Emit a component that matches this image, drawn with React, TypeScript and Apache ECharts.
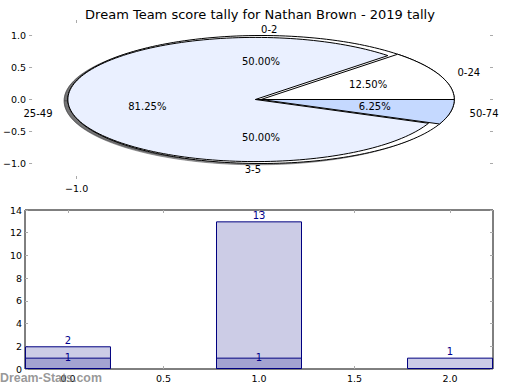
import React, { useEffect, useRef } from 'react';
import * as echarts from 'echarts';

const TITLE = 'Dream Team score tally for Nathan Brown - 2019 tally';
const WATERMARK = 'Dream-Stats.com';

// outer pie (score ranges)
const outerNames = ['0-24', '25-49', '50-74'];
const outerValues = [2, 13, 1];
// inner pie (goal ranges)
const innerNames = ['0-2', '3-5'];
const innerValues = [1, 1];

// bar chart
const lightX = [0, 1, 2];
const lightValues = [2, 13, 1];
const darkX = [0, 1];
const darkValues = [1, 1];

// ticks
const pieYTicks = [-1, -0.5, 0, 0.5, 1];
const pieXTicks = [-1];
const barXTicks = [0, 0.5, 1, 1.5, 2];

const FONT = 'DejaVu Sans';
const RX = 1.048;
const RY = 1;

const fmt1 = (v: number) => v.toFixed(1).replace('-', '\u2212');

function wedgeAngles(values: number[], idx: number) {
  const total = values.reduce((a, b) => a + b, 0);
  let start = 0;
  for (let i = 0; i < idx; i++) start += values[i];
  const a0 = (start / total) * Math.PI * 2;
  const a1 = ((start + values[idx]) / total) * Math.PI * 2;
  return [a0, a1, values[idx] / total];
}

function wedgePoints(api: any, values: number[], idx: number, shrink: number, shiftX: number, offX: number, offY: number) {
  const [a0, a1] = wedgeAngles(values, idx);
  const cx = shiftX + offX;
  const cy = offY;
  const pts: number[][] = [api.coord([cx, cy])];
  const n = Math.max(6, Math.ceil(((a1 - a0) / (Math.PI * 2)) * 200));
  for (let k = 0; k <= n; k++) {
    const a = a0 + ((a1 - a0) * k) / n;
    pts.push(api.coord([cx + RX * shrink * Math.cos(a), cy + RY * shrink * Math.sin(a)]));
  }
  return pts;
}

type WedgeStyle = { fill: string; shrink: number; shiftX: number };

function wedgeSeries(values: number[], styles: WedgeStyle[], z: number, shadow: boolean) {
  return {
    type: 'custom',
    xAxisIndex: 0,
    yAxisIndex: 0,
    z,
    silent: true,
    encode: { x: 0, y: 1 },
    data: values.map((v) => [0, 0, v]),
    renderItem: (params: any, api: any) => {
      const i = params.dataIndex;
      const s = styles[i];
      if (shadow) {
        return {
          type: 'polygon',
          shape: { points: wedgePoints(api, values, i, s.shrink, s.shiftX, -0.02, -0.02) },
          style: { fill: 'rgba(70,70,72,0.5)', stroke: 'rgba(70,70,72,0.5)', lineWidth: 1 },
        };
      }
      return {
        type: 'polygon',
        shape: { points: wedgePoints(api, values, i, s.shrink, s.shiftX, 0, 0) },
        style: { fill: s.fill, stroke: '#000', lineWidth: 1 },
      };
    },
  };
}

function labelSeries(values: number[], names: string[], z: number) {
  return {
    type: 'custom',
    xAxisIndex: 0,
    yAxisIndex: 0,
    z,
    silent: true,
    encode: { x: 0, y: 1 },
    data: values.map((v) => [0, 0, v]),
    renderItem: (params: any, api: any) => {
      const i = params.dataIndex;
      const [a0, a1, frac] = wedgeAngles(values, i);
      const m = (a0 + a1) / 2;
      const c = Math.cos(m);
      const sn = Math.sin(m);
      const lp = api.coord([1.1 * RX * c, 1.1 * RY * sn]);
      const pp = api.coord([0.6 * RX * c, 0.6 * RY * sn]);
      return {
        type: 'group',
        children: [
          {
            type: 'text',
            x: lp[0],
            y: lp[1],
            style: {
              text: names[i],
              fill: '#000',
              fontSize: 10,
              fontFamily: FONT,
              align: c > 0 ? 'left' : 'right',
              verticalAlign: 'middle',
            },
          },
          {
            type: 'text',
            x: pp[0],
            y: pp[1],
            style: {
              text: (frac * 100).toFixed(2) + '%',
              fill: '#000',
              fontSize: 10,
              fontFamily: FONT,
              align: 'center',
              verticalAlign: 'middle',
            },
          },
        ],
      };
    },
  };
}

const tickStyle = { show: true, inside: true, length: 3, lineStyle: { color: '#aaaaaa', width: 1 } };
const labelStyle = { fontSize: 9.5, color: '#000', fontFamily: FONT };
const noLine = { show: false, onZero: false };

export default function App() {
  const ref = useRef<HTMLDivElement>(null);
  useEffect(() => {
    if (!ref.current) return;
    const chart = echarts.init(ref.current, undefined, { renderer: 'svg' });

    const outerStyles: WedgeStyle[] = [
      { fill: '#ffffff', shrink: 1, shiftX: 0 },
      { fill: '#eaf0ff', shrink: 0.97, shiftX: -0.031 },
      { fill: '#c5d9ff', shrink: 1, shiftX: 0 },
    ];
    const innerStyles: WedgeStyle[] = [
      { fill: '#ffffff', shrink: 1, shiftX: 0 },
      { fill: '#ffffff', shrink: 1, shiftX: 0 },
    ];

    const option: any = {
      animation: false,
      backgroundColor: '#ffffff',
      title: {
        text: TITLE,
        left: 'center',
        top: 3,
        textStyle: { fontSize: 13, fontWeight: 'normal', color: '#000', fontFamily: FONT },
      },
      grid: [
        { left: 25, top: 20, width: 468, height: 159 },
        {
          left: 25,
          top: 210,
          width: 468,
          height: 159,
          show: true,
          borderColor: '#000',
          borderWidth: 1,
          backgroundColor: 'transparent',
        },
      ],
      xAxis: [
        {
          gridIndex: 0,
          type: 'value',
          min: -1.258,
          max: 1.258,
          position: 'bottom',
          axisLine: noLine,
          splitLine: { show: false },
          axisTick: { ...tickStyle, customValues: pieXTicks },
          axisLabel: { ...labelStyle, customValues: pieXTicks, formatter: fmt1, margin: 4 },
        },
        {
          gridIndex: 0,
          type: 'value',
          min: -1.258,
          max: 1.258,
          position: 'top',
          axisLine: noLine,
          splitLine: { show: false },
          axisTick: { ...tickStyle, customValues: pieXTicks },
          axisLabel: { show: false },
        },
        {
          gridIndex: 1,
          type: 'value',
          min: -0.225,
          max: 2.225,
          position: 'bottom',
          axisLine: noLine,
          splitLine: { show: false },
          axisTick: { ...tickStyle, customValues: barXTicks },
          axisLabel: { ...labelStyle, customValues: barXTicks, formatter: fmt1, margin: 4 },
        },
        {
          gridIndex: 1,
          type: 'value',
          min: -0.225,
          max: 2.225,
          position: 'top',
          axisLine: noLine,
          splitLine: { show: false },
          axisTick: { ...tickStyle, customValues: barXTicks },
          axisLabel: { show: false },
        },
      ],
      yAxis: [
        {
          gridIndex: 0,
          type: 'value',
          min: -1.242,
          max: 1.242,
          position: 'left',
          axisLine: noLine,
          splitLine: { show: false },
          axisTick: { ...tickStyle, customValues: pieYTicks },
          axisLabel: { ...labelStyle, customValues: pieYTicks, formatter: fmt1, margin: 3 },
        },
        {
          gridIndex: 0,
          type: 'value',
          min: -1.242,
          max: 1.242,
          position: 'right',
          axisLine: noLine,
          splitLine: { show: false },
          axisTick: { ...tickStyle, customValues: pieYTicks },
          axisLabel: { show: false },
        },
        {
          gridIndex: 1,
          type: 'value',
          min: 0,
          max: 14,
          interval: 2,
          position: 'left',
          axisLine: noLine,
          splitLine: { show: false },
          axisTick: tickStyle,
          axisLabel: { ...labelStyle, margin: 3 },
        },
        {
          gridIndex: 1,
          type: 'value',
          min: 0,
          max: 14,
          interval: 2,
          position: 'right',
          axisLine: noLine,
          splitLine: { show: false },
          axisTick: tickStyle,
          axisLabel: { show: false },
        },
      ],
      series: [
        wedgeSeries(innerValues, innerStyles, 1, true),
        wedgeSeries(outerValues, outerStyles, 1, true),
        wedgeSeries(innerValues, innerStyles, 2, false),
        wedgeSeries(outerValues, outerStyles, 3, false),
        labelSeries(innerValues, innerNames, 5),
        labelSeries(outerValues, outerNames, 5),
        {
          type: 'bar',
          xAxisIndex: 2,
          yAxisIndex: 2,
          data: lightX.map((x, i) => [x, lightValues[i]]),
          barWidth: 86,
          barGap: '-100%',
          itemStyle: { color: '#ccccE6', borderColor: '#000080', borderWidth: 1 },
          label: { show: true, position: 'top', distance: 1, color: '#00008b', fontSize: 10, fontFamily: FONT },
        },
        {
          type: 'bar',
          xAxisIndex: 2,
          yAxisIndex: 2,
          data: darkX.map((x, i) => [x, darkValues[i]]),
          barWidth: 86,
          barGap: '-100%',
          itemStyle: { color: '#a3a3d1', borderColor: '#000080', borderWidth: 1 },
          label: { show: true, position: 'top', distance: -5, color: '#00008b', fontSize: 10, fontFamily: FONT },
        },
      ],
      graphic: [
        {
          type: 'text',
          left: 0,
          top: 372,
          z: 100,
          style: {
            text: WATERMARK,
            fill: 'rgba(125,125,125,0.8)',
            fontSize: 12.4,
            fontWeight: 'bold',
            fontFamily: 'Liberation Sans',
          },
        },
      ],
    };
    chart.setOption(option);
    return () => chart.dispose();
  }, []);
  return <div ref={ref} style={{ position: 'fixed', left: 0, top: 0, width: 520, height: 390 }} />;
}
